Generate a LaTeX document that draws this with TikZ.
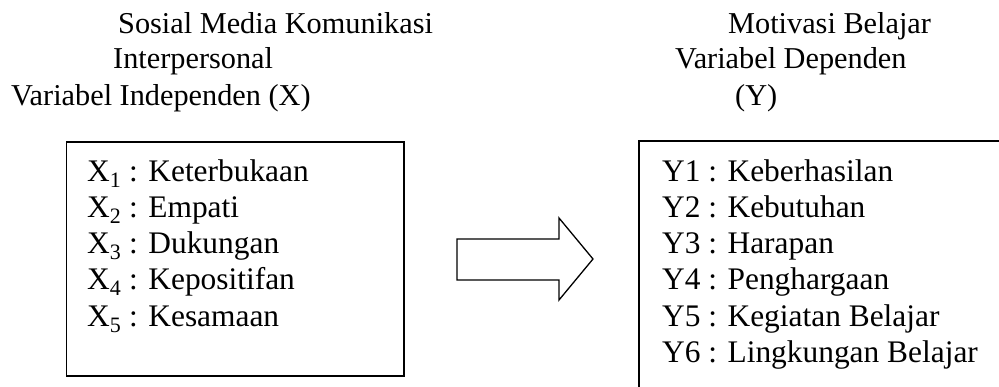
\documentclass[tikz,border=0pt]{standalone}
\usepackage{fontspec}
\setmainfont{Liberation Serif}
\begin{document}
\begin{tikzpicture}[x=1pt,y=-1pt,
  head/.style={anchor=base west,inner sep=0pt,font=\fontsize{30.3}{36}\selectfont},
  item/.style={anchor=base west,inner sep=0pt,font=\fontsize{31.4}{36}\selectfont},
  frame/.style={draw=black,line width=1.7pt},
  bigarrow/.style={draw=black,line width=1.3pt,line join=miter}]
\useasboundingbox (0,0) rectangle (999,387);
% headers left
\node[head] (h1) at (118,34) {Sosial Media Komunikasi};
\node[head] (h2) at (113,69) {Interpersonal};
\node[head] (h3) at (11,106) {Variabel Independen (X)};
% headers right
\node[head] (h4) at (728,34) {Motivasi Belajar};
\node[head] (h5) at (675,69) {Variabel Dependen};
\node[head] (h6) at (735,106) {(Y)};
% left box
\node[frame,anchor=north west,inner sep=0pt,minimum width=337.5pt,minimum height=234pt] (xbox) at (65.5,141) {};
\node[item] (x1) at (87,181.7) {X\textsubscript{1} : Keterbukaan};
\node[item] (x2) at (87,217.6) {X\textsubscript{2} : Empati};
\node[item] (x3) at (87,253.8) {X\textsubscript{3} : Dukungan};
\node[item] (x4) at (87,290) {X\textsubscript{4} : Kepositifan};
\node[item] (x5) at (87,326.5) {X\textsubscript{5} : Kesamaan};
% arrow
\draw[bigarrow] (457,239) -- (559,239) -- (559,218) -- (593,259) -- (559,300) -- (559,280) -- (457,280) -- cycle;
% right box (clipped by page)
\begin{scope}
\clip (0,0) rectangle (999,387);
\draw[frame] (1010,141) -- (639,141) -- (639,400);
\end{scope}
\node[item] (y1) at (662,181.7) {Y1 : Keberhasilan};
\node[item] (y2) at (662,217.6) {Y2 : Kebutuhan};
\node[item] (y3) at (662,253.5) {Y3 : Harapan};
\node[item] (y4) at (662,289.5) {Y4 : Penghargaan};
\node[item] (y5) at (662,326.3) {Y5 : Kegiatan Belajar};
\node[item] (y6) at (662,362.3) {Y6 : Lingkungan Belajar};
\end{tikzpicture}
\end{document}
